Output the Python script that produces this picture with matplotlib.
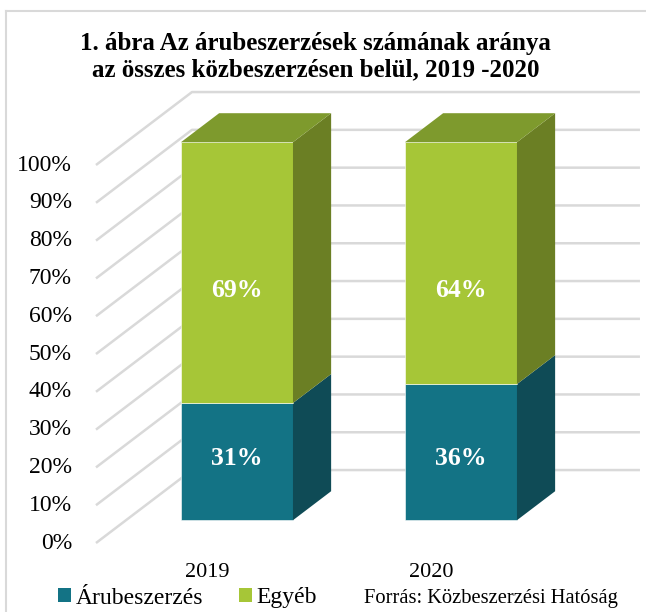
import matplotlib.pyplot as plt
from matplotlib.patches import Polygon, Rectangle
from matplotlib.lines import Line2D

# --- Data ---
years = ["2019", "2020"]
aru = [31, 36]      # Árubeszerzés share, %
egyeb = [69, 64]    # Egyéb share, %
series_names = ["Árubeszerzés", "Egyéb"]
ticks = list(range(0, 101, 10))
title = "1. ábra Az árubeszerzések számának aránya\naz összes közbeszerzésen belül, 2019 -2020"
source = "Forrás: Közbeszerzési Hatóság"

# --- Style ---
FONT = "Liberation Serif"
teal = ("#137385", "#0f4b56", "#0f5a66")      # front, side, top
green = ("#a6c637", "#6b7f24", "#7e9a2d")
grid_c = "#d9d9d9"

# oblique projection of the depth axis (in data units)
DX, DY = 0.4286, 19.3
BAR_D0, BAR_D1 = 0.3125, 0.71   # bar front/back depth fraction
BAR_W = 0.5
X_FRONT = -0.4955               # front edge of the side wall
X_END = 1.933                   # right end of back wall

fig = plt.figure(figsize=(6.46, 6.12), dpi=100)
ax = fig.add_axes([0, 0, 1, 1])
ax.set_xlim(-0.924, 1.960)
ax.set_ylim(-18.25, 143.65)
ax.axis("off")


def proj(x, p, d):
    return (x + d * DX, p + d * DY)


# outer frame (left and top only visible)
fig.add_artist(Line2D([6 / 646, 6 / 646], [0, 1 - 11 / 612], color=grid_c, lw=1.5))
fig.add_artist(Line2D([6 / 646, 1], [1 - 11 / 612, 1 - 11 / 612], color=grid_c, lw=1.5))

# gridlines: diagonal on side wall, horizontal on back wall
for t in ticks:
    x0, y0 = proj(X_FRONT, t, 0)
    x1, y1 = proj(X_FRONT, t, 1)
    ax.plot([x0, x1, X_END], [y0, y1, y1], color=grid_c, lw=1.8, solid_capstyle="butt", zorder=1)
    ax.text(-0.603, t, f"{t}%", ha="right", va="center", fontsize=17, family=FONT, color="#000000")


def box(xc, b, h, cols, top):
    xl, xr = xc - BAR_W / 2, xc + BAR_W / 2
    front = [proj(xl, b, BAR_D0), proj(xr, b, BAR_D0), proj(xr, b + h, BAR_D0), proj(xl, b + h, BAR_D0)]
    side = [proj(xr, b, BAR_D0), proj(xr, b, BAR_D1), proj(xr, b + h, BAR_D1), proj(xr, b + h, BAR_D0)]
    ax.add_patch(Polygon(front, closed=True, fc=cols[0], ec="#ffffff", lw=0.4, zorder=3))
    ax.add_patch(Polygon(side, closed=True, fc=cols[1], ec="none", zorder=3))
    if top:
        tp = [proj(xl, b + h, BAR_D0), proj(xr, b + h, BAR_D0), proj(xr, b + h, BAR_D1), proj(xl, b + h, BAR_D1)]
        ax.add_patch(Polygon(tp, closed=True, fc=cols[2], ec="none", zorder=3))


for i, yr in enumerate(years):
    box(i, 0, aru[i], teal, False)
    box(i, aru[i], egyeb[i], green, True)
    xc = i + BAR_D0 * DX
    ax.text(xc, 16.4 + BAR_D0 * DY, f"{aru[i]}%", ha="center", va="center", fontsize=18.5,
            family=FONT, weight="bold", color="white", zorder=4)
    ax.text(xc, 60.8 + BAR_D0 * DY, f"{egyeb[i]}%", ha="center", va="center", fontsize=18.5,
            family=FONT, weight="bold", color="white", zorder=4)
    ax.text(i, -7.7, yr, ha="center", va="center", fontsize=16, family=FONT)

# title
fig.text(0.489, 1 - 56.5 / 612, title, ha="center", va="center", fontsize=18, family=FONT,
         weight="bold", linespacing=1.22)

# legend
handles = [Rectangle((0, 0), 1, 1, fc=teal[0]), Rectangle((0, 0), 1, 1, fc=green[0])]
fig.legend(handles, series_names, loc="center left", bbox_to_anchor=(58 / 646, 1 - 598 / 612),
           ncol=2, frameon=False, borderpad=0, borderaxespad=0, handlelength=0.55, handleheight=0.55,
           handletextpad=0.2, columnspacing=1.5, prop={"family": FONT, "size": 17})
fig.text(364 / 646, 1 - 598 / 612, source, ha="left", va="center", fontsize=14.8, family=FONT)

fig.savefig("out.png", dpi=100)
